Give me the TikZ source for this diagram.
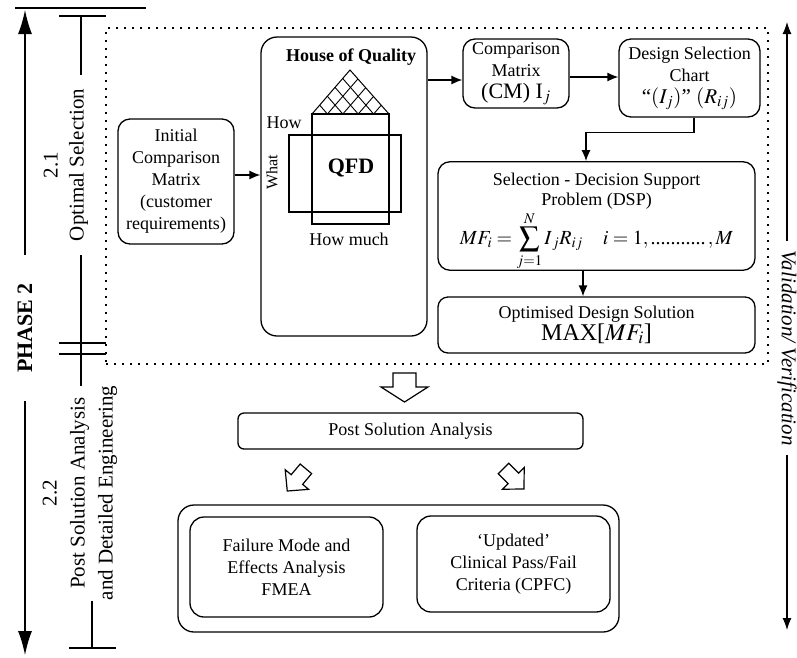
\documentclass[tikz,border=0pt]{standalone}
\usepackage{mathptmx}
\usepackage[no-math]{fontspec}
\setmainfont{Liberation Serif}
\usetikzlibrary{arrows.meta}

\tikzset{
  box/.style={draw, line width=1.3pt, rounded corners=12pt, align=center, inner sep=0pt},
  arr/.style={line width=1.3pt, -{Latex[length=11pt,width=9pt]}},
  bigarr/.style={line width=1.3pt, -{Latex[length=24pt,width=14pt]}},
  thinarr/.style={line width=1.1pt, -{Latex[length=12pt,width=9pt]}},
  bar/.style={line width=1.2pt},
  dotbox/.style={draw, line width=1.6pt, dash pattern=on 1.6pt off 6.4pt, inner sep=0pt},
  hollow/.pic={\draw[line width=1.2pt, line join=miter] (-11.5,0) -- (11.5,0) -- (11.5,14) -- (23.5,14) -- (0,29) -- (-23.5,14) -- (-11.5,14) -- cycle;}
}

\begin{document}
\begin{tikzpicture}[x=1pt, y=-1pt, font=\fontsize{18}{22}\selectfont]
	\useasboundingbox (0,0) rectangle (797,657);

	% phase axis on the left
	\draw[bar] (15,8) -- (146,8);
	\node[rotate=90, font=\bfseries\fontsize{22}{26}\selectfont, inner xsep=28pt] (phase) at (25,328) {PHASE 2};
	\coordinate (ptop) at (25,10);
	\coordinate (pbot) at (25,655);
	\draw[bigarr] (phase.east) -- (ptop);
	\draw[bigarr] (phase.west) -- (pbot);

	% stage brackets
	\node[rotate=90, align=center, font=\fontsize{21}{26}\selectfont, inner xsep=14pt] (optsel) at (66,165) {2.1\\Optimal Selection};
	\node[rotate=90, align=center, font=\fontsize{21}{28}\selectfont, inner xsep=0pt] (postsel) at (80,493) {2.2\\Post Solution Analysis\\and Detailed Engineering};
	\coordinate (captop) at (81,16);
	\coordinate (capbot) at (92,648);
	\draw[bar] (59,16) -- (106,16);
	\draw[bar] (captop) -- (optsel.east -| captop);
	\draw[bar] (optsel.west -| captop) -- (postsel.east -| captop);
	\draw[bar] (59,343) -- (106,343);
	\draw[bar] (59,354) -- (106,354);
	\draw[bar] (postsel.west -| capbot) -- (capbot);
	\draw[bar] (69,648) -- (116,648);

	% validation axis on the right
	\node[rotate=-90, font=\itshape\fontsize{21}{24}\selectfont, inner xsep=9pt] (valid) at (787,348) {Validation/ Verification};
	\coordinate (vtop) at (787,22);
	\coordinate (vbot) at (787,630);
	\draw[thinarr] (valid.west) -- (vtop);
	\draw[thinarr] (valid.east) -- (vbot);

	% optimal selection zone
	\node[dotbox, minimum width=662pt, minimum height=336pt] (zone) at (437,196) {};

	\node[box, minimum width=116pt, minimum height=125pt] (init) at (176,181.5) {Initial\\Comparison\\Matrix\\(customer\\requirements)};
	\node[box, rounded corners=16pt, minimum width=166pt, minimum height=299pt] (hoq) at (344,186.5) {};
	\node[box, minimum width=106pt, minimum height=69pt] (cm) at (516,73.5) {Comparison\\Matrix\\{\fontsize{22}{24}\selectfont (CM) I$_j$}};
	\node[box, minimum width=141pt, minimum height=78pt] (dsc) at (689.5,78) {Design Selection\\Chart\\{\fontsize{21}{23}\selectfont “$(I_j)$” $(R_{ij})$}};
	\node[box, minimum width=317pt, minimum height=102pt, font=\fontsize{18}{20}\selectfont] (dsp) at (596.5,216) {\rule{0pt}{24pt}Selection - Decision Support\\Problem (DSP)\\[1pt]{\fontsize{20}{24}\selectfont $\displaystyle MF_i = \sum_{j=1}^{N} I_{\,j}R_{ij} \quad i = 1,\mbox{...........}\,, M$}};
	\node[box, rounded corners=10pt, minimum width=317pt, minimum height=56pt] (opt) at (596.5,325) {Optimised Design Solution\\{\fontsize{24}{26}\selectfont MAX[$MF_i$]}};

	% house of quality
	\node[font=\bfseries\fontsize{18}{22}\selectfont] (hoqtitle) at (351,57) {House of Quality};
	\begin{scope}
		\clip (350,70) -- (389,114) -- (312,114) -- cycle;
		\foreach \k in {1,...,4} {
			\draw[line width=0.9pt] (312+\k*15.4,114) -- ++(60,-69);
			\draw[line width=0.9pt] (389-\k*15.4,114) -- ++(-60,-69);
		}
	\end{scope}
	\draw[line width=1pt] (350,70) -- (389,114) -- (312,114) -- cycle;
	\draw[line width=1.2pt] (312,114) rectangle (389,224);
	\draw[line width=1.2pt] (289,135) rectangle (401,212);
	\draw[line width=2pt] (312,114) -- (389,114);
	\node (how) at (284,123) {How};
	\node[rotate=90, font=\fontsize{16}{18}\selectfont] (what) at (272,172) {What};
	\node[font=\bfseries\fontsize{22}{26}\selectfont] (qfd) at (351,168) {QFD};
	\node (howmuch) at (349,239) {How much};

	% connectors
	\coordinate (hqin) at ([yshift=6.5pt]init.east);
	\draw[arr] (hqin) -- (hqin -| hoq.west);
	\coordinate (cmin) at ([yshift=-6.5pt]cm.west);
	\draw[arr] (hoq.east |- cmin) -- (cmin);
	\draw[arr] ([yshift=-3.5pt]cm.east) -- ([yshift=-3.5pt]cm.east -| dsc.west);
	\draw[arr] ([xshift=4.5pt]dsc.south) -- ++(0,15) -| ([xshift=-10.5pt]dsp.north);
	\draw[arr] ([xshift=-13.5pt]dsp.south) -- ([xshift=-13.5pt]opt.north);

	% post solution part
	\pic at (404.5,373) {hollow};
	\node[box, rounded corners=6pt, minimum width=345pt, minimum height=36pt] (post) at (410.5,431) {Post Solution Analysis};
	\pic[rotate=-40, xscale=0.65] at (305.9,468.8) {hollow};
	\pic[rotate=45, xscale=0.65] at (503.5,468.5) {hollow};
	\node[box, rounded corners=16pt, minimum width=441pt, minimum height=127pt] (outer) at (398.5,568.5) {};
	\node[box, rounded corners=14pt, minimum width=193pt, minimum height=100pt] (fmea) at (286.5,567) {Failure Mode and\\Effects Analysis\\FMEA};
	\node[box, rounded corners=14pt, minimum width=193pt, minimum height=96pt] (cpfc) at (513.5,564) {‘Updated’\\Clinical Pass/Fail\\Criteria (CPFC)};
\end{tikzpicture}
\end{document}
